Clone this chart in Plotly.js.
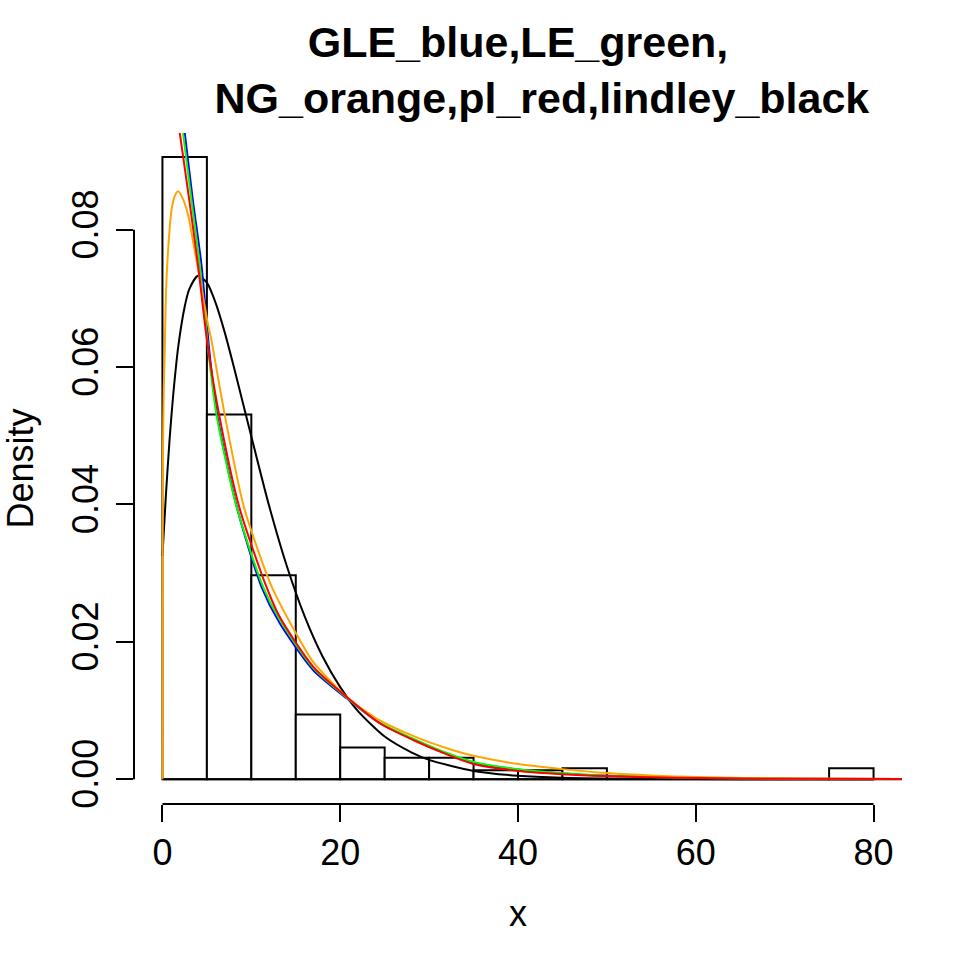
<!DOCTYPE html>
<html>
<head>
<meta charset="utf-8">
<script src="https://cdn.plot.ly/plotly-3.0.1.min.js"></script>
<style>
  html, body { margin: 0; padding: 0; background: #fff; }
  #hist { width: 969px; height: 971px; }
</style>
</head>
<body>
<div id="hist"></div>
<script>
// histogram (density scale), bins of width 5
var binEdges = [0, 5, 10, 15, 20, 25, 30, 35, 40, 45, 50, 55, 60, 65, 70, 75, 80];
var binDensity = [0.0906, 0.0531, 0.0297, 0.0094, 0.0046, 0.0031, 0.0031, 0.0013,
                  0.0013, 0.0016, 0, 0, 0, 0, 0, 0.0016];

// fitted curves
var lindleyX = [0, 0.4, 0.8, 1.2, 1.8, 2.5, 3, 4, 5, 6, 7, 8, 10, 12, 14, 16, 18, 20,
                22, 25, 28, 30, 35, 40, 45, 50, 60, 70, 83.2];
var lindleyY = [0.0325, 0.0416, 0.0494, 0.0558, 0.0632, 0.0688, 0.0713, 0.0733, 0.0723,
                0.0693, 0.0651, 0.0602, 0.0499, 0.0398, 0.0310, 0.0237, 0.0179, 0.0134,
                0.0099, 0.0062, 0.0039, 0.0028, 0.0012, 0.0005, 0.0002, 0.0001, 0.00001, 0, 0];

var gleX = [1.5, 2.51, 3.4, 4.39, 5.32, 6.15, 8.35, 11.14, 13.2, 16.95, 20.7, 24.5, 28.2,
            32, 35, 40, 45, 50, 55, 60, 70, 83.2];
var gleY = [0.1044, 0.0941, 0.0845, 0.0749, 0.0618, 0.0531, 0.0397, 0.0280, 0.0227, 0.0159,
            0.0118, 0.0081, 0.0058, 0.0037, 0.0024, 0.0014, 0.00083, 0.00049, 0.0003, 0.00017,
            0.00006, 0.00001];

var leX = [1.3, 2.32, 3.25, 4.2, 5.21, 6.08, 8.33, 11.32, 13.2, 16.95, 20.7, 24.5, 28.2,
           32, 35, 40, 45, 50, 55, 60, 70, 83.2];
var leY = [0.1045, 0.0941, 0.0845, 0.0749, 0.0618, 0.0531, 0.0397, 0.0280, 0.0232, 0.0162,
           0.0119, 0.0082, 0.0059, 0.0038, 0.0025, 0.00145, 0.00085, 0.0005, 0.0003, 0.00018,
           0.00006, 0.00001];

var ngX = [0, 0.01, 0.03, 0.07, 0.15, 0.26, 0.4, 0.63, 1.0, 1.35, 1.76, 2.3, 2.88, 3.64,
           4.39, 5.13, 5.5, 7.0, 9.15, 12.3, 15, 17, 20.7, 24, 28.2, 32, 35, 40, 45,
           50, 55, 60, 70, 83.2];
var ngY = [0, 0.020, 0.035, 0.049, 0.057, 0.0625, 0.071, 0.0769, 0.0827, 0.0848, 0.0856,
           0.0845, 0.0822, 0.0769, 0.0715, 0.0662, 0.0640, 0.0531, 0.0397, 0.0280, 0.0213,
           0.0170, 0.0120, 0.0089, 0.0063, 0.0045, 0.0034, 0.0022, 0.00146, 0.00088, 0.00052,
           0.0003, 0.0001, 0.00003];

var plX = [1.2, 1.95, 3.0, 4.0, 5.05, 6.37, 8.62, 11.7, 13.2, 16.95, 20.7, 24.5, 28.2, 32,
           35, 40, 45, 50, 55, 60, 70, 83.2];
var plY = [0.101, 0.0941, 0.0845, 0.0749, 0.0635, 0.0531, 0.0397, 0.0280, 0.0236, 0.0164,
           0.0120, 0.0081, 0.0057, 0.0036, 0.0022, 0.0012, 0.00073, 0.00045, 0.00028, 0.00016,
           0.00005, 0.00001];

var xTicks = [0, 20, 40, 60, 80];
var yTicks = [0, 0.02, 0.04, 0.06, 0.08];
var yTickText = ['0.00', '0.02', '0.04', '0.06', '0.08'];

var binMid = [], binWidth = [];
for (var i = 0; i < binDensity.length; i++) {
    binMid.push((binEdges[i] + binEdges[i + 1]) / 2);
    binWidth.push(binEdges[i + 1] - binEdges[i]);
}

function curve(x, y, col) {
    return {
        x: x, y: y,
        mode: 'lines',
        type: 'scatter',
        line: {color: col, width: 2, shape: 'spline', smoothing: 0.7},
        hoverinfo: 'skip',
        showlegend: false
    };
}

var bars = {
    x: binMid, y: binDensity, width: binWidth,
    type: 'bar',
    marker: {color: 'white', line: {color: 'black', width: 2}},
    hoverinfo: 'skip',
    showlegend: false
};

// the empty bins still have their bottom edge in R
var baseline = {
    x: [binEdges[0], binEdges[binEdges.length - 1]], y: [0, 0],
    mode: 'lines', type: 'scatter',
    line: {color: 'black', width: 2},
    hoverinfo: 'skip', showlegend: false
};

var data = [bars, baseline,
    curve(lindleyX, lindleyY, 'black'),
    curve(gleX, gleY, 'blue'),
    curve(leX, leY, '#00ff00'),
    curve(ngX, ngY, 'orange'),
    curve(plX, plY, 'red')];

var tickFont = {family: 'Liberation Sans, Arial, sans-serif', size: 36, color: 'black'};

var layout = {
    width: 969, height: 971,
    paper_bgcolor: 'white', plot_bgcolor: 'white',
    font: tickFont,
    margin: {l: 134, r: 67, t: 133, b: 167},
    bargap: 0,
    title: {
        text: 'GLE_blue,LE_green,<br>\u00a0\u00a0\u00a0\u00a0NG_orange,pl_red,lindley_black',
        font: {family: 'Liberation Sans, Arial, sans-serif', size: 43, color: 'black', weight: 'bold'},
        x: 518 / 969, xanchor: 'center',
        y: 0.941, yanchor: 'top'
    },
    xaxis: {
        range: [-3.2, 83.2],
        tickvals: xTicks,
        ticks: 'outside', ticklen: 17, tickwidth: 2, tickcolor: 'black',
        ticklabelstandoff: 0,
        showline: false, zeroline: false, showgrid: false,
        tickfont: tickFont,
        title: {text: 'x', font: tickFont, standoff: 28},
        automargin: false
    },
    yaxis: {
        range: [-0.00362, 0.0941],
        tickvals: yTicks, ticktext: yTickText,
        tickangle: -90,
        ticks: 'outside', ticklen: 17, tickwidth: 2, tickcolor: 'black',
        ticklabelstandoff: 4,
        showline: false, zeroline: false, showgrid: false,
        tickfont: tickFont,
        title: {text: 'Density', font: tickFont, standoff: 22},
        automargin: false
    },
    shapes: [
        {type: 'line', xref: 'x', yref: 'paper', x0: xTicks[0], x1: xTicks[xTicks.length - 1],
         y0: 0, y1: 0, line: {color: 'black', width: 2}},
        {type: 'line', xref: 'paper', yref: 'y', x0: 0, x1: 0,
         y0: yTicks[0], y1: yTicks[yTicks.length - 1], line: {color: 'black', width: 2}}
    ]
};

Plotly.newPlot('hist', data, layout, {displayModeBar: false, staticPlot: true});
</script>
</body>
</html>
